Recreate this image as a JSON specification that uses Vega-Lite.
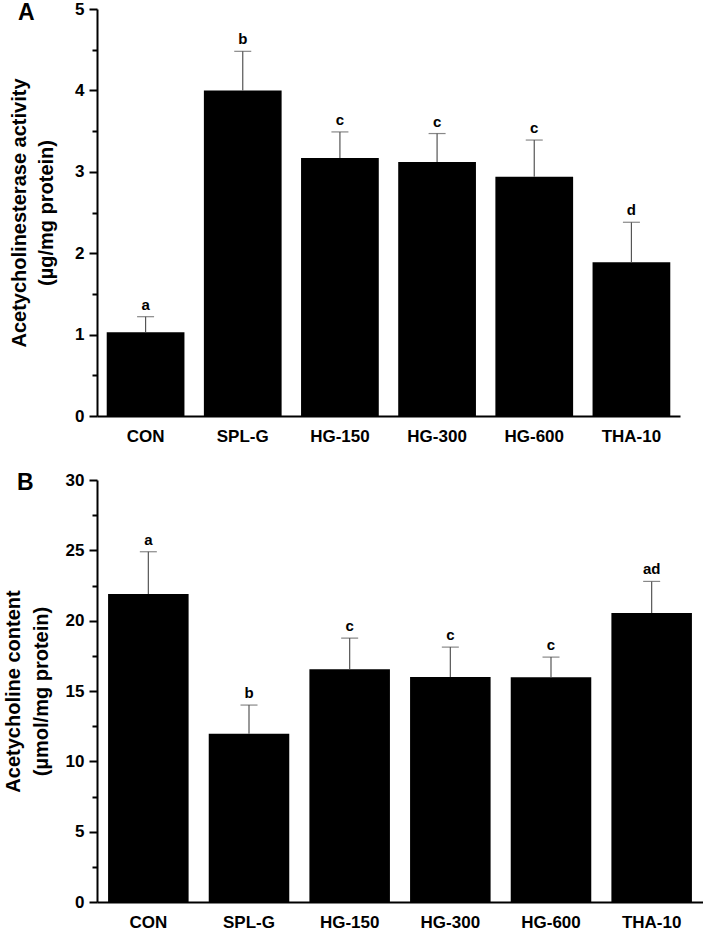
{
  "$schema": "https://vega.github.io/schema/vega-lite/v6.json",
  "background": "white",
  "padding": {"left": 3, "top": 0, "right": 0, "bottom": 0},
  "spacing": 27,
  "datasets": {
    "a": [
      {"group": "CON", "mean": 1.03, "upper": 1.22, "letter": "a"},
      {"group": "SPL-G", "mean": 4.0, "upper": 4.48, "letter": "b"},
      {"group": "HG-150", "mean": 3.17, "upper": 3.49, "letter": "c"},
      {"group": "HG-300", "mean": 3.12, "upper": 3.47, "letter": "c"},
      {"group": "HG-600", "mean": 2.94, "upper": 3.39, "letter": "c"},
      {"group": "THA-10", "mean": 1.89, "upper": 2.38, "letter": "d"}
    ],
    "b": [
      {"group": "CON", "mean": 21.9, "upper": 24.9, "letter": "a"},
      {"group": "SPL-G", "mean": 11.96, "upper": 14.0, "letter": "b"},
      {"group": "HG-150", "mean": 16.54, "upper": 18.76, "letter": "c"},
      {"group": "HG-300", "mean": 15.99, "upper": 18.12, "letter": "c"},
      {"group": "HG-600", "mean": 15.97, "upper": 17.41, "letter": "c"},
      {"group": "THA-10", "mean": 20.54, "upper": 22.79, "letter": "ad"}
    ]
  },
  "config": {
    "view": {"stroke": null},
    "font": "Liberation Sans",
    "axis": {
      "domainColor": "black",
      "domainWidth": 2,
      "tickColor": "black",
      "tickWidth": 2,
      "labelColor": "black",
      "labelFont": "Liberation Sans",
      "labelFontSize": 17,
      "labelFontWeight": "bold",
      "titleColor": "black",
      "titleFont": "Liberation Sans",
      "titleFontSize": 20,
      "titleFontWeight": "bold",
      "grid": false
    },
    "title": {"font": "Liberation Sans", "fontSize": 23, "fontWeight": "bold", "color": "black"}
  },
  "vconcat": [
    {
      "data": {"name": "a"},
      "width": 583,
      "height": 407,
      "title": {"text": "A", "anchor": "start", "frame": "group", "dx": -79, "dy": 25, "offset": 0},
      "resolve": {"axis": {"y": "independent"}},
      "encoding": {
        "x": {
          "field": "group", "type": "nominal", "sort": null,
          "scale": {"paddingInner": 0.2, "paddingOuter": 0.1},
          "axis": {"title": null, "labelAngle": 0, "ticks": false, "labelPadding": 12, "labelFontSize": 17}
        }
      },
      "layer": [
        {
          "mark": {"type": "bar", "color": "black"},
          "encoding": {
            "y": {
              "field": "mean", "type": "quantitative",
              "scale": {"domain": [0, 5], "nice": false},
              "axis": {
                "values": [0, 1, 2, 3, 4, 5], "tickSize": 8, "labelPadding": 5,
                "title": ["Acetycholinesterase activity", "(µg/mg protein)"],
                "titleLineHeight": 27, "titlePadding": 18
              }
            }
          }
        },
        {
          "mark": {"type": "rule", "color": "#555555", "strokeWidth": 1.2},
          "encoding": {
            "y": {
              "field": "mean", "type": "quantitative",
              "scale": {"domain": [0, 5], "nice": false},
              "axis": {
                "orient": "left", "values": [0.5, 1.5, 2.5, 3.5, 4.5], "tickSize": 5,
                "labels": false, "domain": false, "title": null
              }
            },
            "y2": {"field": "upper"}
          }
        },
        {
          "mark": {"type": "tick", "color": "#555555", "thickness": 1.2, "size": 17, "orient": "horizontal"},
          "encoding": {
            "y": {"field": "upper", "type": "quantitative", "scale": {"domain": [0, 5], "nice": false}, "axis": null}
          }
        },
        {
          "mark": {"type": "text", "fontSize": 15, "fontWeight": "bold", "baseline": "bottom", "dy": -4, "color": "black"},
          "encoding": {
            "y": {"field": "upper", "type": "quantitative", "scale": {"domain": [0, 5], "nice": false}, "axis": null},
            "text": {"field": "letter"}
          }
        }
      ]
    },
    {
      "data": {"name": "b"},
      "width": 606,
      "height": 422,
      "title": {"text": "B", "anchor": "start", "frame": "group", "dx": -80, "dy": 24, "offset": 0},
      "resolve": {"axis": {"y": "independent"}},
      "encoding": {
        "x": {
          "field": "group", "type": "nominal", "sort": null,
          "scale": {"paddingInner": 0.2, "paddingOuter": 0.11},
          "axis": {"title": null, "labelAngle": 0, "ticks": false, "labelPadding": 12, "labelFontSize": 17}
        }
      },
      "layer": [
        {
          "mark": {"type": "bar", "color": "black"},
          "encoding": {
            "y": {
              "field": "mean", "type": "quantitative",
              "scale": {"domain": [0, 30], "nice": false},
              "axis": {
                "values": [0, 5, 10, 15, 20, 25, 30], "tickSize": 8, "labelPadding": 5,
                "title": ["Acetycholine content", "(µmol/mg protein)"],
                "titleLineHeight": 28, "titlePadding": 14
              }
            }
          }
        },
        {
          "mark": {"type": "rule", "color": "#555555", "strokeWidth": 1.2},
          "encoding": {
            "y": {
              "field": "mean", "type": "quantitative",
              "scale": {"domain": [0, 30], "nice": false},
              "axis": {
                "orient": "left", "values": [2.5, 7.5, 12.5, 17.5, 22.5, 27.5], "tickSize": 5,
                "labels": false, "domain": false, "title": null
              }
            },
            "y2": {"field": "upper"}
          }
        },
        {
          "mark": {"type": "tick", "color": "#555555", "thickness": 1.2, "size": 17, "orient": "horizontal"},
          "encoding": {
            "y": {"field": "upper", "type": "quantitative", "scale": {"domain": [0, 30], "nice": false}, "axis": null}
          }
        },
        {
          "mark": {"type": "text", "fontSize": 15, "fontWeight": "bold", "baseline": "bottom", "dy": -4, "color": "black"},
          "encoding": {
            "y": {"field": "upper", "type": "quantitative", "scale": {"domain": [0, 30], "nice": false}, "axis": null},
            "text": {"field": "letter"}
          }
        }
      ]
    }
  ]
}
